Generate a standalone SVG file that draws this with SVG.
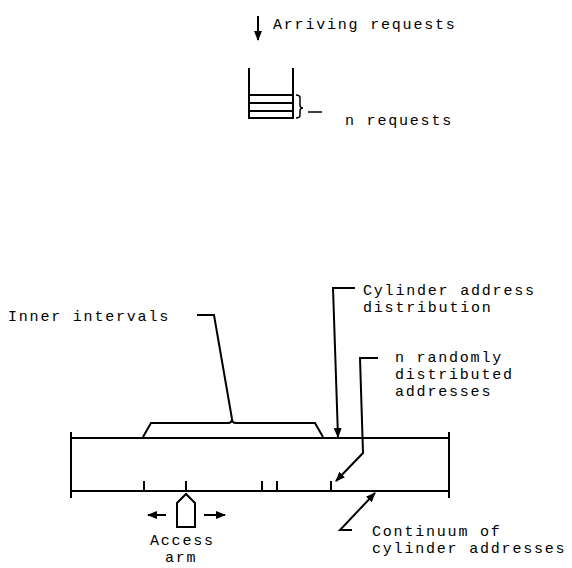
<svg xmlns="http://www.w3.org/2000/svg" width="572" height="568" viewBox="0 0 572 568">
<defs>
<style>
text{font-family:"Liberation Mono","DejaVu Sans Mono",monospace;font-size:15px;letter-spacing:1.8px;fill:#000}
.ln{stroke:#000;stroke-width:2;fill:none}
.th{stroke:#000;stroke-width:1.5;fill:none}
</style>
<marker id="ah" viewBox="0 0 10 10" refX="9" refY="5" markerWidth="5" markerHeight="5" orient="auto" markerUnits="strokeWidth">
<path d="M0,1 L10,5 L0,9 z" fill="#000"/>
</marker>
</defs>
<rect width="572" height="568" fill="#fff"/>
<g id="queue">
<line class="ln" x1="249" y1="68" x2="249" y2="119"/>
<line class="ln" x1="293" y1="68" x2="293" y2="119"/>
<line class="ln" x1="249" y1="95" x2="293" y2="95"/>
<line class="ln" x1="249" y1="103" x2="293" y2="103"/>
<line class="ln" x1="249" y1="111" x2="293" y2="111"/>
<line class="ln" x1="249" y1="118" x2="293" y2="118"/>
<path class="th" d="M296,95 Q300,95 300,98 L300,105 Q300,108 303,108 Q300,108 300,111 L300,115 Q300,118 296,118"/>
</g>
<g id="arriving">
<text x="273" y="29">Arriving requests</text>
</g>
<g id="nreq">
<text x="345" y="125">n requests</text>
</g>
<g id="bar">
<line class="ln" x1="71" y1="432" x2="71" y2="498"/>
<line class="ln" x1="449" y1="432" x2="449" y2="498"/>
<line class="ln" x1="71" y1="438" x2="449" y2="438"/>
<line class="ln" x1="71" y1="491" x2="449" y2="491"/>
<line class="ln" x1="144" y1="481" x2="144" y2="491"/>
<line class="ln" x1="186" y1="481" x2="186" y2="491"/>
<line class="ln" x1="262" y1="481" x2="262" y2="491"/>
<line class="ln" x1="277" y1="481" x2="277" y2="491"/>
<line class="ln" x1="331" y1="481" x2="331" y2="491"/>
<path class="ln" d="M143,437 L151,423 L228,423 Q232,423 232,419 Q232,423 236,423 L315,423 L323,437"/>
</g>
<g id="arm">
<path class="ln" d="M186,494 L195,503 L195,527 L177,527 L177,503 Z"/>
</g>
<g id="inner">
<text x="8" y="321">Inner intervals</text>
</g>
<g id="cyl">
<text x="363" y="295">Cylinder address</text>
<text x="363" y="312">distribution</text>
</g>
<g id="nrand">
<text x="395" y="362">n randomly</text>
<text x="395" y="379">distributed</text>
<text x="395" y="396">addresses</text>
</g>
<g id="access">
<text x="150" y="545">Access</text>
<text x="165" y="562">arm</text>
</g>
<g id="cont">
<text x="372" y="536">Continuum of</text>
<text x="372" y="553">cylinder addresses</text>
</g>
<g id="connectors">
<line class="ln" x1="258" y1="16" x2="258" y2="40" marker-end="url(#ah)"/>
<line class="th" x1="308" y1="112" x2="322" y2="112"/>
<path class="ln" d="M197,315 L214,315 L232,419"/>
<path class="ln" d="M355,288 L333,288 L338,437" marker-end="url(#ah)"/>
<path class="ln" d="M378,358 L360,358 L363,453 L336,481" marker-end="url(#ah)"/>
<path class="ln" d="M352,530 L340,530 L375,493" marker-end="url(#ah)"/>
<line class="ln" x1="166" y1="515" x2="148" y2="515" marker-end="url(#ah)"/>
<line class="ln" x1="204" y1="515" x2="225" y2="515" marker-end="url(#ah)"/>
</g>
</svg>
